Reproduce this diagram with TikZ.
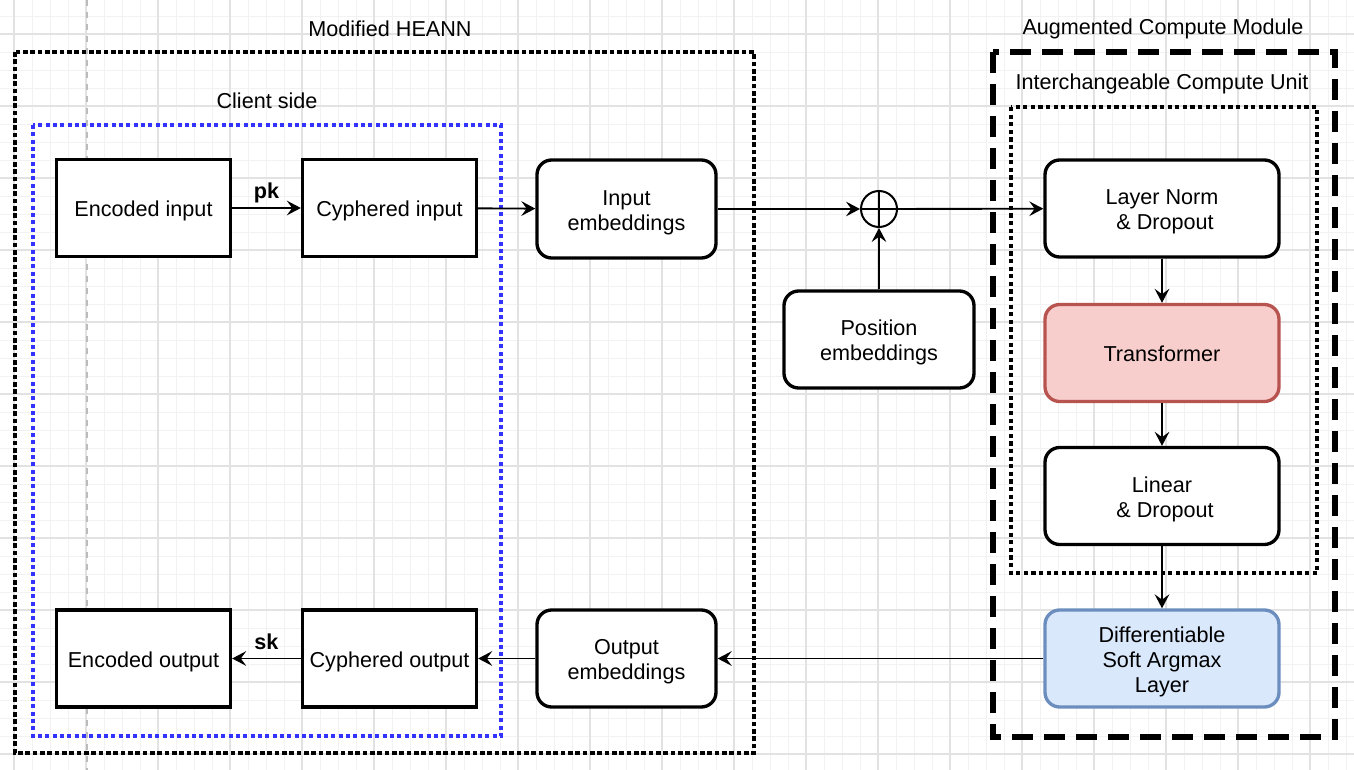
\documentclass[tikz,border=0pt]{standalone}
\usepackage{fontspec}
\setmainfont{Liberation Sans}
\usetikzlibrary{arrows.meta}
\definecolor{gridmin}{HTML}{F2F2F2}
\definecolor{gridmaj}{HTML}{E2E2E2}
\definecolor{pagebrk}{HTML}{BBBBBB}
\definecolor{trfill}{HTML}{F8CECC}
\definecolor{trdraw}{HTML}{B85450}
\definecolor{safill}{HTML}{DAE8FC}
\definecolor{sadraw}{HTML}{6C8EBF}
\definecolor{clientblue}{HTML}{3333FF}
\newcommand{\btxt}[1]{\raisebox{-2.8pt}[\height][\depth]{\begin{tabular}{@{}c@{}}#1\end{tabular}}}
\begin{document}
\begin{tikzpicture}[x=0.75pt,y=-0.75pt,
  font=\fontsize{16.2}{18.8}\selectfont,
  box/.style={draw, line width=2.5pt, minimum width=130.5pt, minimum height=72.75pt, inner sep=1pt, fill=white},
  rbox/.style={box, rounded corners=11pt},
  widebox/.style={rbox, minimum width=175.5pt},
  arr/.style={line width=1.4pt, -{Stealth[length=10.5pt,width=11pt,inset=4pt]}},
  grouptitle/.style={inner sep=0pt, anchor=center},
  edgelbl/.style={font=\fontsize{16.2}{18.8}\selectfont\bfseries, inner sep=0pt}
]
\useasboundingbox (0,0) rectangle (1354,770);
\fill[white] (0,0) rectangle (1354,770);
% grid
\foreach \k in {0,...,74} { \draw[gridmin, line width=0.6pt] ({14+18*\k},0) -- ({14+18*\k},770); }
\foreach \k in {0,...,42} { \draw[gridmin, line width=0.6pt] (0,{16+18*\k}) -- (1354,{16+18*\k}); }
\foreach \k in {0,...,18} { \draw[gridmaj, line width=0.8pt] ({14+72*\k},0) -- ({14+72*\k},770); }
\foreach \k in {0,...,10} { \draw[gridmaj, line width=0.8pt] (0,{34+72*\k}) -- (1354,{34+72*\k}); }
\draw[pagebrk, line width=0.8pt, dash pattern={on 4.5pt off 4.5pt}] (87,0) -- (87,770);

% containers
\draw[line width=3.6pt, dash pattern={on 3.6pt off 1.9pt}] (15,52) rectangle (754,753);
\draw[clientblue, line width=3pt, dash pattern={on 3pt off 2.5pt}] (33,125) rectangle (501,736);
\draw[line width=3.8pt, dash pattern={on 15.75pt off 8.25pt}] (993,52) rectangle (1335,737);
\draw[line width=3.2pt, dash pattern={on 3.2pt off 2.5pt}] (1011,107) rectangle (1317,573);

\node[grouptitle] (tHE) at (390,29) {Modified HEANN};
\node[grouptitle] (tCS) at (267,100.5) {Client side};
\node[grouptitle] (tACM) at (1163,29) {Augmented Compute Module};
\node[grouptitle] (tICU) at (1162,83.5) {Interchangeable Compute Unit};

% nodes
\node[box] (enc) at (143.5,208) {\btxt{Encoded input}};
\node[box] (cin) at (389.5,208) {\btxt{Cyphered input}};
\node[rbox, minimum width=134.25pt, minimum height=73.5pt] (ie) at (626.5,209) {\btxt{Input\\embeddings}};
\node[draw, circle, line width=1.5pt, minimum size=27pt, inner sep=0pt] (op) at (879,209) {};
\draw[line width=1.5pt] (op.north) -- (op.south) (op.west) -- (op.east);
\node[rbox, minimum width=142.5pt] (pe) at (879,339.5) {\btxt{Position\\embeddings}};

\node[widebox] (ln) at (1162,208.5) {\btxt{Layer Norm\\\ \& Dropout}};
\node[widebox, fill=trfill, draw=trdraw] (tr) at (1162,353) {\btxt{Transformer}};
\node[widebox] (li) at (1162,496) {\btxt{Linear\\\ \& Dropout}};
\node[widebox, fill=safill, draw=sadraw] (sa) at (1162,658.5) {\btxt{Differentiable\\Soft Argmax\\Layer}};

\node[box] (eo) at (143.5,658.5) {\btxt{Encoded output}};
\node[box] (co) at (389.5,658.5) {\btxt{Cyphered output}};
\node[rbox, minimum width=134.25pt] (oe) at (626.5,658.5) {\btxt{Output\\embeddings}};

% connectors
\draw[arr] (enc) -- node[edgelbl, midway, above=3pt] {pk} (cin);
\draw[arr] (cin) -- (ie);
\draw[arr] (ie) -- (op);
\draw[arr] (pe) -- (op);
\draw[arr] (op) -- (ln);
\draw[arr] (ln) -- (tr);
\draw[arr] (tr) -- (li);
\draw[arr] (li) -- (sa);
\draw[arr] (sa) -- (oe);
\draw[arr] (oe) -- (co);
\draw[arr] (co) -- node[edgelbl, midway, above=6pt] {sk} (eo);
\end{tikzpicture}
\end{document}
